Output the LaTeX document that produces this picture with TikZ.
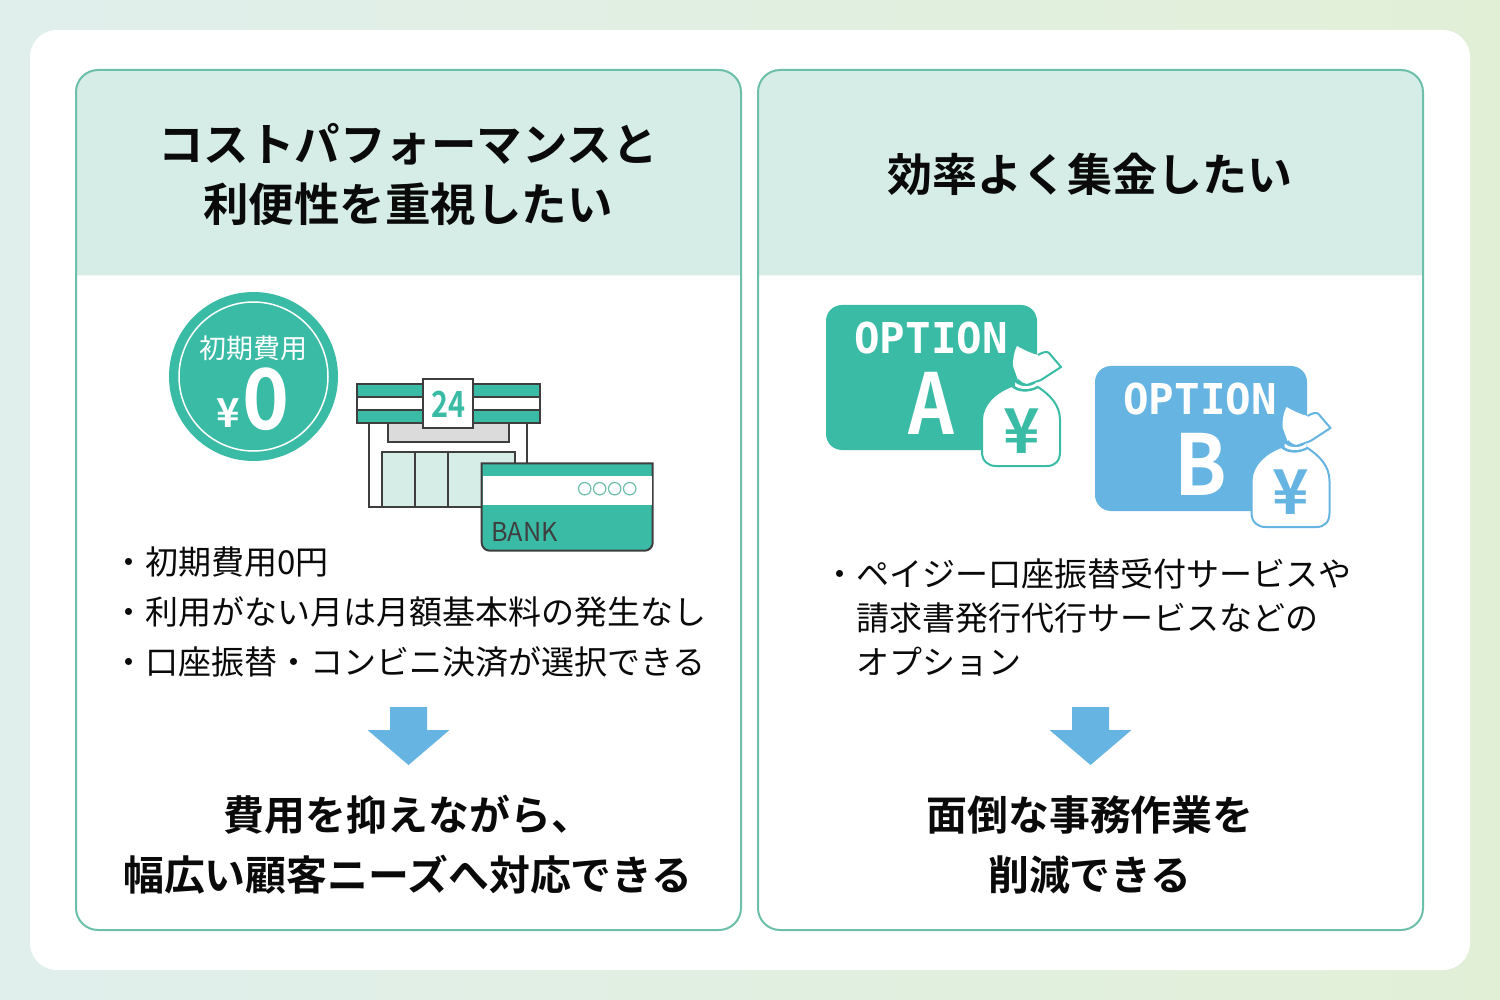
\documentclass[tikz,border=0pt]{standalone}
\usepackage{fontspec}
\setmainfont{Noto Sans CJK JP}[BoldFont={Noto Sans CJK JP Bold}]
\newfontfamily\optionfont{DejaVu Sans Mono}
\definecolor{teal1}{HTML}{3ABBA6}
\definecolor{blue1}{HTML}{66B4E1}
\definecolor{line1}{HTML}{6CBFA9}
\definecolor{head1}{HTML}{D6ECE6}
\definecolor{ink1}{HTML}{3E3E3E}
\definecolor{text1}{HTML}{0A0A0A}
\definecolor{bgleft}{HTML}{E0EFEC}
\definecolor{bgright}{HTML}{E2EFD7}

\tikzset{
  headtext/.style={font=\fontsize{45.5}{50}\selectfont\bfseries, text=text1, inner sep=0pt, anchor=base},
  bodytext/.style={font=\fontsize{33}{38}\selectfont, text=text1, inner sep=0pt, anchor=base west},
  foottext/.style={font=\fontsize{40.9}{46}\selectfont\bfseries, text=text1, inner sep=0pt, anchor=base},
  storeline/.style={draw=ink1, line width=1.7pt},
  bagline/.style={line width=2pt, line join=round},
}

% one money bag, drawn at the place of option A
\newcommand{\moneybag}[3]{
  \begin{scope}[shift={(#1,#2)}]
    % body
    \fill[white] (1012,386) .. controls (995,392) and (982,405) .. (982,420)
      -- (982,452) .. controls (982,461) and (988,466) .. (996,466)
      -- (1047,466) .. controls (1055,466) and (1060,461) .. (1060,452)
      -- (1060,420) .. controls (1060,405) and (1050,395) .. (1038,387)
      .. controls (1030,392) and (1018,392) .. (1012,386) -- cycle;
    \draw[bagline, draw=#3] (1012,386) .. controls (995,392) and (982,405) .. (982,420)
      -- (982,452) .. controls (982,461) and (988,466) .. (996,466)
      -- (1047,466) .. controls (1055,466) and (1060,461) .. (1060,452)
      -- (1060,420) .. controls (1060,405) and (1050,395) .. (1038,387)
      .. controls (1030,392) and (1018,392) .. (1012,386) -- cycle;
    % tie
    \fill[white] (1017,346) .. controls (1024,350) and (1030,353) .. (1038,355)
      .. controls (1043,352) and (1047,351) .. (1049,353)
      -- (1061,367) -- (1041,380) -- (1027,385)
      .. controls (1023,384) and (1020,383) .. (1018,380)
      -- (1013,366) .. controls (1013,358) and (1014,352) .. (1017,346) -- cycle;
    \draw[bagline, draw=#3] (1038,355)
      .. controls (1043,352) and (1047,351) .. (1049,353)
      -- (1061,367) -- (1041,380) -- (1027,385)
      .. controls (1023,384) and (1020,383) .. (1018,380);
    % neck
    \fill[white] (1015,382.5) .. controls (1022,388) and (1032,387) .. (1037,382) -- (1037,386) .. controls (1030,390) and (1020,390) .. (1015,386) -- cycle;
  \end{scope}
}

\begin{document}
\begin{tikzpicture}[x=1pt,y=-1pt]
  \useasboundingbox (0,0) rectangle (1500,1000);

  % Background and card
  \shade[left color=bgleft, right color=bgright] (0,0) rectangle (1500,1000);
  \fill[white, rounded corners=27] (30,30) rectangle (1470,970);

  % Panels
  \foreach \dx in {0,682} {
    \begin{scope}[shift={(\dx,0)}]
      \fill[head1] (76,275.5) [rounded corners=22] -- (76,70) -- (741,70) [sharp corners] -- (741,275.5) -- cycle;
      \draw[line1, line width=2pt, rounded corners=22] (76,70) rectangle (741,930);
      % Down arrow
      \fill[blue1] (390,707) -- (427,707) -- (427,730) -- (449.5,730) -- (408.5,765) -- (367.5,730) -- (390,730) -- cycle;
    \end{scope}
  }

  % Headings
  \node[headtext] (headA1) at (408,162) {コストパフォーマンスと};
  \node[headtext] (headA2) at (408,222) {利便性を重視したい};
  \node[headtext, font=\fontsize{45}{50}\selectfont\bfseries] (headB1) at (1090,192) {効率よく集金したい};

  % Badge
  \fill[teal1] (253.5,376.5) circle (84.5);
  \draw[white, line width=1.5pt] (253.5,376.5) circle (74.5);
  \node[font=\fontsize{27}{30}\selectfont, text=white, inner sep=0pt] (badgetext) at (253.5,348) {初期費用};
  \node[font=\fontsize{40}{44}\selectfont\bfseries, text=white, inner sep=0pt] (badgeyen) at (228.5,413) {¥};
  \node[font=\fontsize{84}{90}\selectfont\bfseries, text=white, inner sep=0pt, xscale=.95, transform shape] (badgezero) at (266.5,399) {0};

  % Store
  \draw[storeline, fill=white] (369.3,423.3) rectangle (526.7,507.3);
  \draw[storeline, fill=black!14] (388,423.3) rectangle (509,441.7);
  \draw[storeline, fill=head1] (381.7,451.7) rectangle (515,507.3);
  \draw[storeline] (415,451.7) -- (415,507.3);
  \draw[storeline] (448.3,451.7) -- (448.3,507.3);
  \draw[storeline, fill=teal1] (356.7,384) rectangle (540,396.7);
  \draw[storeline, fill=white] (356.7,396.7) rectangle (540,410);
  \draw[storeline, fill=teal1] (356.7,410) rectangle (540,423.3);
  \draw[storeline, fill=white] (423.3,378.7) rectangle (473.3,428.3);
  \node[font=\fontsize{36}{40}\selectfont\bfseries, text=teal1, inner sep=0pt, xscale=.8, transform shape] (signno) at (448.3,404) {24};

  % Bank card
  \draw[storeline, fill=teal1, line width=2pt] (481.7,463.3) -- (652.7,463.3) [rounded corners=8] -- (652.7,550.7) -- (481.7,550.7) [sharp corners] -- cycle;
  \fill[white] (482.7,475.7) rectangle (651.7,505);
  \foreach \cx in {584.7,599.7,614.7,629.7} {
    \draw[line1, line width=1.2pt] (\cx,488.7) circle (6.2);
  }
  \node[font=\fontsize{26}{30}\selectfont, text=ink1, inner sep=0pt, anchor=base west, xscale=.97, transform shape] (banktext) at (491,541) {BANK};

  % Left list
  \node[bodytext] (listA1) at (112,574) {・初期費用0円};
  \node[bodytext] (listA2) at (112,624) {・利用がない月は月額基本料の発生なし};
  \node[bodytext] (listA3) at (112,674) {・口座振替・コンビニ決済が選択できる};

  % Options
  \fill[teal1, rounded corners=16] (826,305) rectangle (1037,450);
  \fill[blue1, rounded corners=16] (1095,366) rectangle (1307,511);
  \moneybag{0}{0}{teal1}
  \moneybag{269.5}{61}{blue1}
  \node[font=\fontsize{42.5}{46}\selectfont\optionfont\bfseries, text=white, inner sep=0pt] (optA) at (931,338.5) {OPTION};
  \node[font=\fontsize{42.5}{46}\selectfont\optionfont\bfseries, text=white, inner sep=0pt] (optB) at (1200,399.5) {OPTION};
  \node[font=\fontsize{84}{90}\selectfont\bfseries, text=white, inner sep=0pt, xscale=.85, transform shape] (letterA) at (931,403) {A};
  \node[font=\fontsize{84}{90}\selectfont\bfseries, text=white, inner sep=0pt, xscale=.92, transform shape] (letterB) at (1200.5,464) {B};
  \node[font=\fontsize{62}{66}\selectfont\bfseries, text=teal1, inner sep=0pt] (yenA) at (1021.5,431) {¥};
  \node[font=\fontsize{62}{66}\selectfont\bfseries, text=blue1, inner sep=0pt] (yenB) at (1291,492) {¥};

  % Right list
  \node[bodytext] (listB1) at (823,586) {・ペイジー口座振替受付サービスや};
  \node[bodytext] (listB2) at (856,630) {請求書発行代行サービスなどの};
  \node[bodytext] (listB3) at (856,674) {オプション};

  % Results
  \node[foottext] (footA1) at (408,830) {費用を抑えながら、};
  \node[foottext] (footA2) at (408,890) {幅広い顧客ニーズへ対応できる};
  \node[foottext] (footB1) at (1090,830) {面倒な事務作業を};
  \node[foottext] (footB2) at (1090,890) {削減できる};
\end{tikzpicture}
\end{document}
